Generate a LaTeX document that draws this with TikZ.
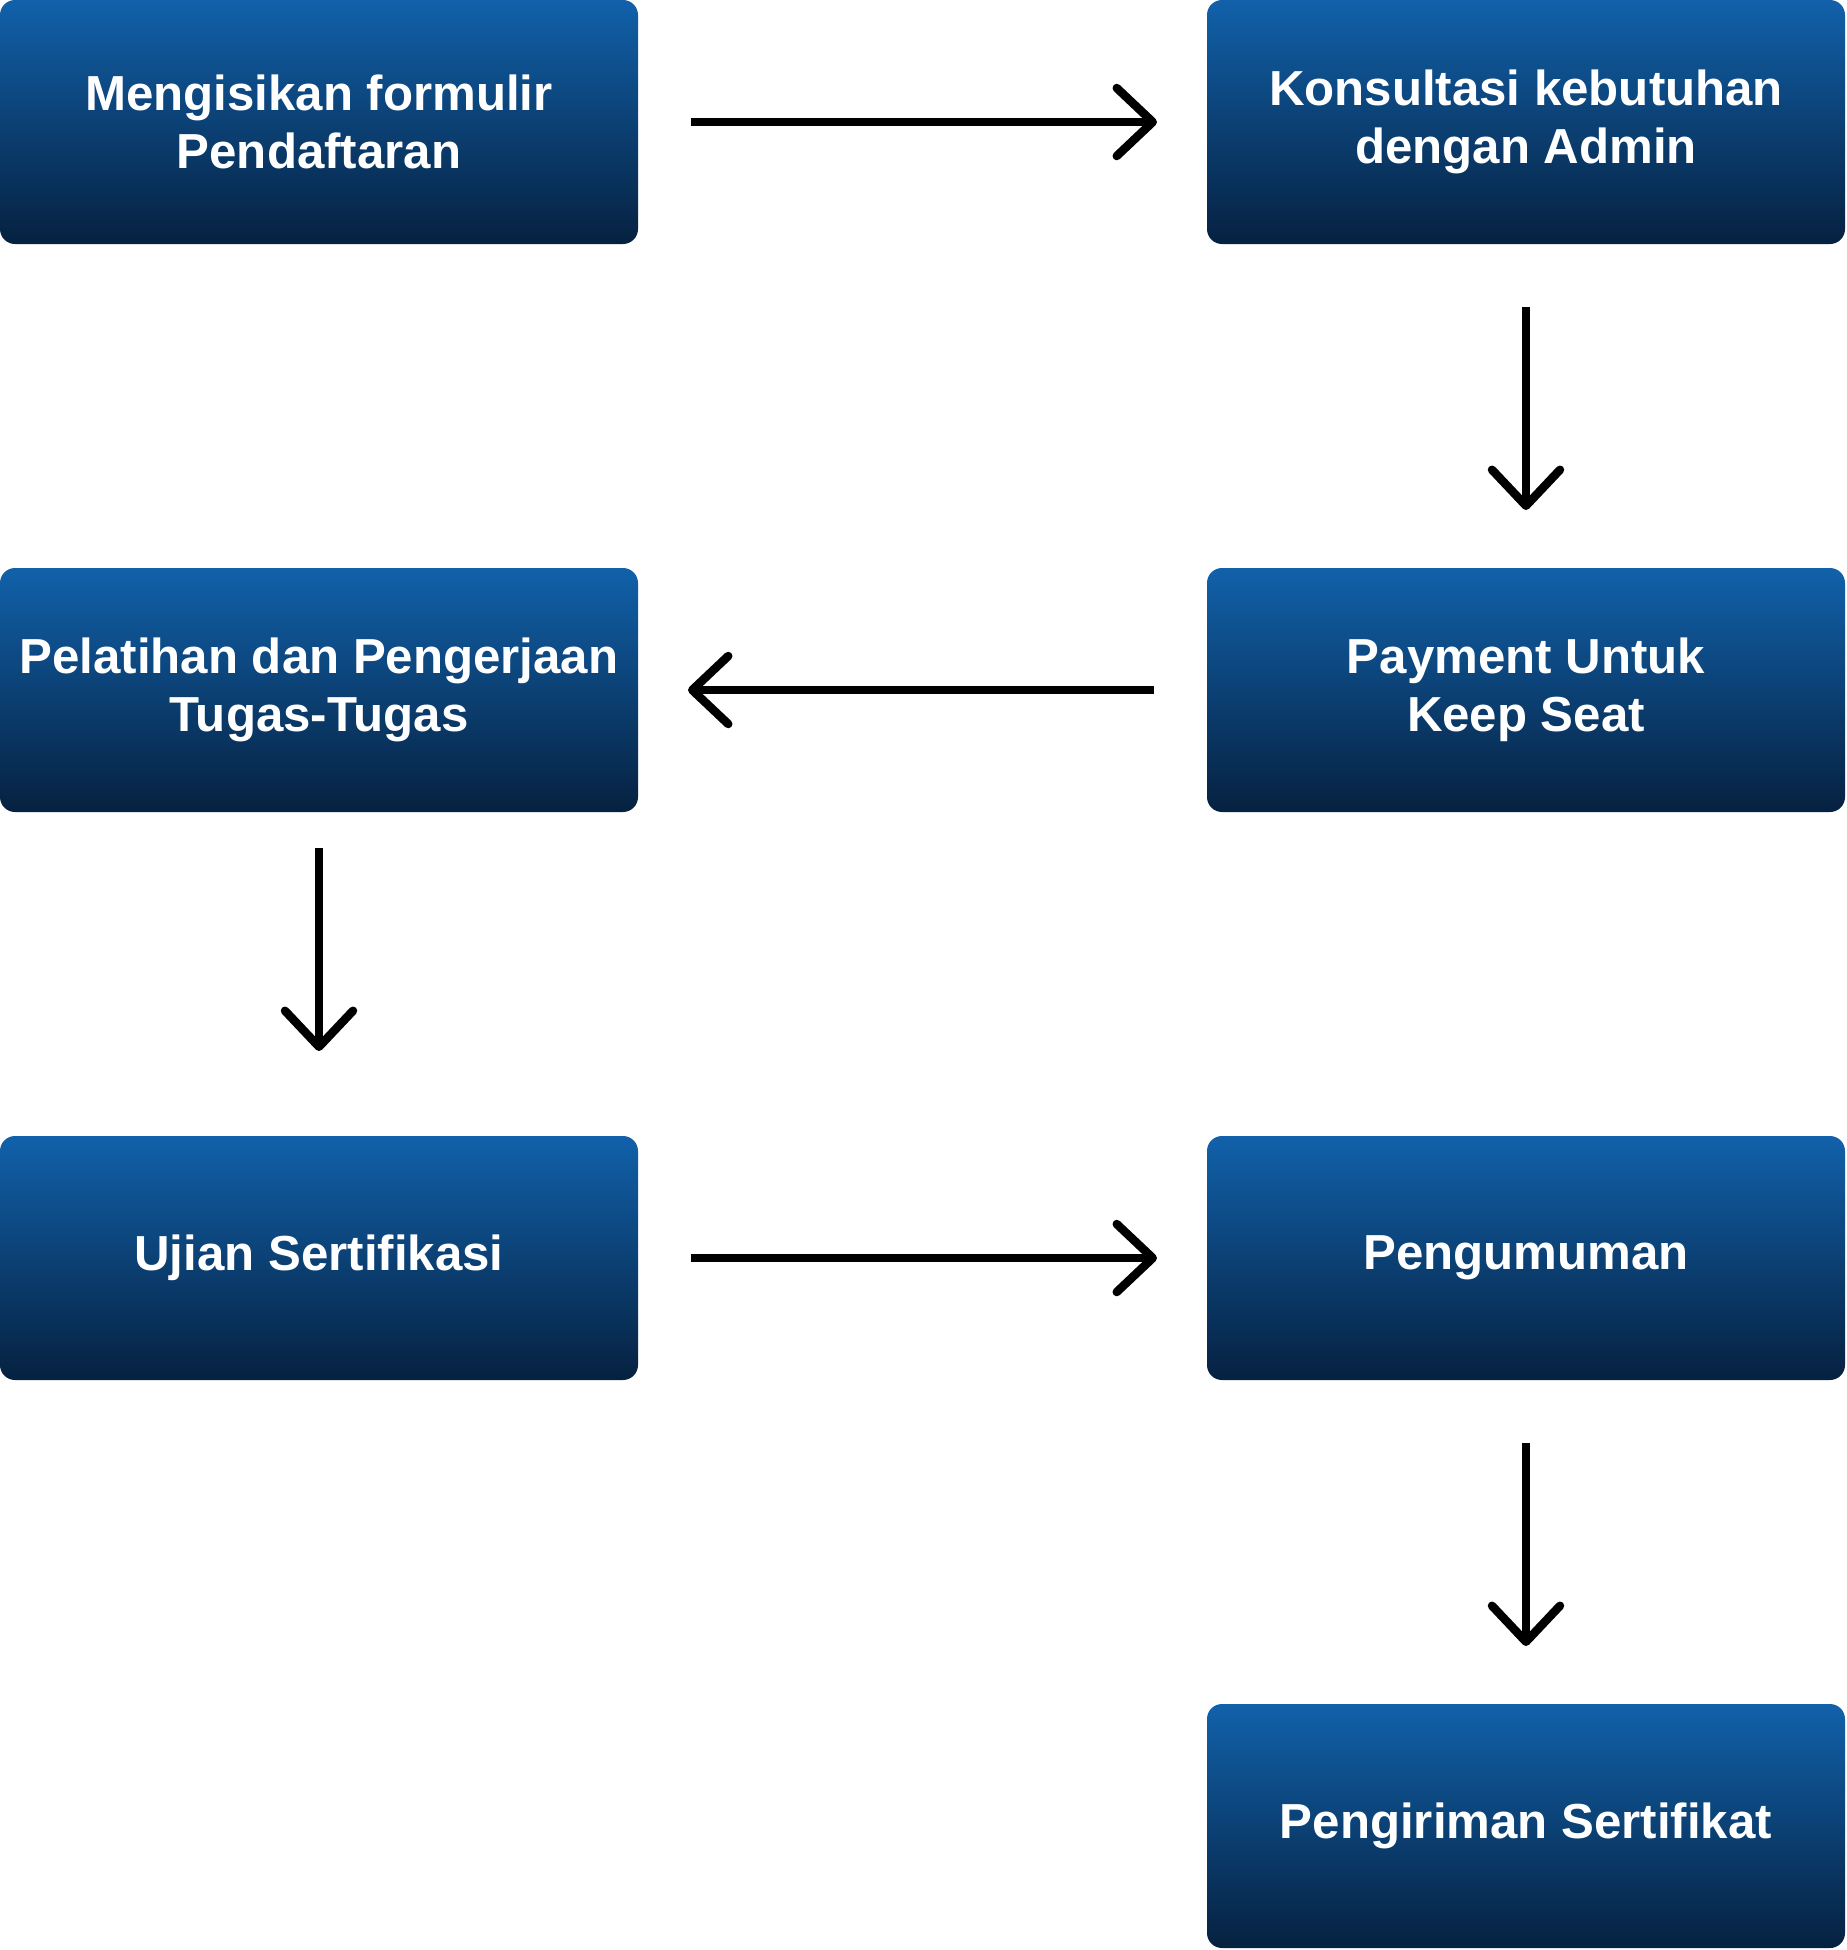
\documentclass[tikz,border=0pt]{standalone}
\usepackage{fontspec}
\setmainfont{Liberation Sans}
\usetikzlibrary{arrows.meta,positioning}
\definecolor{boxtop}{RGB}{17,97,170}
\definecolor{boxbot}{RGB}{6,33,64}
\tikzset{
  stepnode/.style = {align=center, inner sep=0pt, outer sep=0pt, text centered,
    rounded corners=0.15cm, minimum width=6.38cm, minimum height=2.44cm,
    top color=boxtop, bottom color=boxbot, draw=none,
    text=white, font=\fontsize{14}{16.5}\selectfont\bfseries},% kotak langkah
  flow/.style = {-{Straight Barb[length=0.36cm,width=0.68cm,round]},
    line width=0.085cm, black},% panah
  hflow/.style = {flow, shorten <=0.53cm, shorten >=0.50cm},% panah mendatar
  vflow/.style = {flow, shorten <=0.63cm, shorten >=0.58cm}% panah tegak
}
\begin{document}
\begin{tikzpicture}[node distance=3.24cm and 5.69cm]
		\useasboundingbox (0,0) rectangle (18.46,-19.5);
		\node [stepnode, anchor=north west] (daftar) at (0,0) {Mengisikan formulir\\Pendaftaran};
		\node [stepnode, right=of daftar] (konsul) {Konsultasi kebutuhan\\dengan Admin};
		\node [stepnode, below=of konsul] (bayar) {Payment Untuk\\Keep Seat};
		\node [stepnode, below=of daftar] (latih) {Pelatihan dan Pengerjaan\\Tugas-Tugas};
		\node [stepnode, below=of latih] (ujian) {Ujian Sertifikasi};
		\node [stepnode, below=of bayar] (umum) {Pengumuman};
		\node [stepnode, below=of umum] (kirim) {Pengiriman Sertifikat};
		% panah antar langkah
		\draw [hflow] (daftar) -- (konsul);
		\draw [vflow] (konsul) -- (bayar);
		\draw [hflow] (bayar) -- (latih);
		\draw [vflow, shorten <=0.36cm, shorten >=0.85cm] (latih) -- (ujian);
		\draw [hflow] (ujian) -- (umum);
		\draw [vflow] (umum) -- (kirim);
\end{tikzpicture}
\end{document}
